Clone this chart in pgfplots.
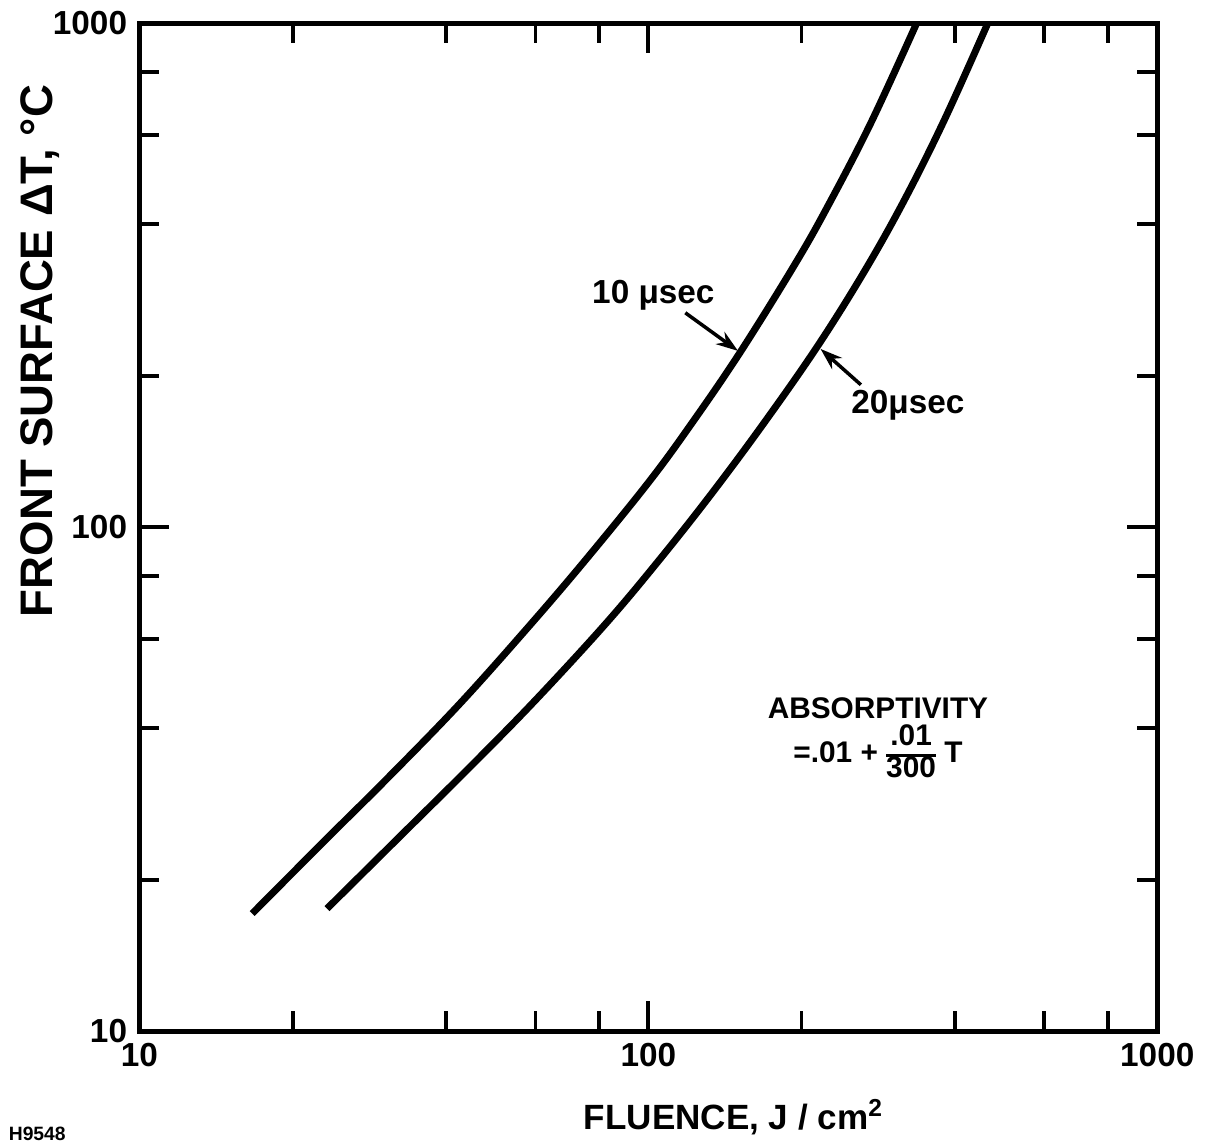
\documentclass[border=0pt]{standalone}
\usepackage{fontspec}
\setmainfont{Liberation Sans}
\usepackage{pgfplots}
\usepackage{pgfplotstable}
\pgfplotsset{compat=1.18}
\usetikzlibrary{arrows.meta}

% 10 microsecond pulse
\pgfplotstableread{
x y
16.66 17.13
23.26 24.04
30.50 31.55
42.42 44.46
58.17 63.53
75.23 86.10
100 122.7
121.4 160.3
151.4 222.3
194.1 332.7
225.4 434.5
273.5 633.9
336.5 1000
}\tenus

% 20 microsecond pulse
\pgfplotstableread{
x y
23.37 17.52
32.35 24.25
44.98 33.73
59.98 45.39
82.36 64.31
104.6 85.70
132.9 116.4
169.4 162.0
215.4 229.5
266.5 323.6
319.2 448.1
382.3 645.7
464.3 1000
}\twentyus

\begin{document}
\begin{tikzpicture}
\begin{axis}[
    scale only axis,
    width=102mm, height=101mm,
    xmode=log, ymode=log,
    xmin=10, xmax=1000, ymin=10, ymax=1000,
    xtick={10,100,1000}, ytick={10,100,1000},
    xticklabels={10,100,1000}, yticklabels={10,100,1000},
    minor xtick={20,40,60,80,200,400,600,800},
    minor ytick={20,40,60,80,200,400,600,800},
    tick align=inside,
    major tick length=3mm, minor tick length=2mm,
    every tick/.style={black, line width=1.1pt},
    axis line style={line width=1.4pt},
    tick label style={font=\fontsize{9.5}{11}\selectfont\bfseries},
    xlabel={FLUENCE, J / cm\textsuperscript{2}},
    ylabel={FRONT SURFACE ΔT, °C},
    every axis x label/.style={at={(rel axis cs:0.584,-0.097)}, anchor=base,
        font=\fontsize{10}{12}\selectfont\bfseries},
    every axis y label/.style={at={(rel axis cs:-0.098,0.675)}, anchor=center, rotate=90,
        font=\fontsize{13}{15}\selectfont\bfseries},
    clip=false,
]
\addplot[black, line width=2pt, smooth, tension=0.6] table {\tenus};
\addplot[black, line width=2pt, smooth, tension=0.6] table {\twentyus};

\node[font=\fontsize{9.5}{11}\selectfont\bfseries] at (axis cs:102.3,289) {10 μsec};
\draw[line width=1pt, -{Stealth[length=2.2mm, width=1.5mm]}] (axis cs:118.2,266.6) -- (axis cs:150,224);
\node[font=\fontsize{9.5}{11}\selectfont\bfseries] at (axis cs:323.6,174.5) {20μsec};
\draw[line width=1pt, -{Stealth[length=2.2mm, width=1.5mm]}] (axis cs:261.6,191.9) -- (axis cs:218,226);

\node[font=\fontsize{8.5}{10}\selectfont\bfseries] at (axis cs:282.6,43.8) {ABSORPTIVITY};
\node[font=\fontsize{8.5}{10}\selectfont\bfseries, inner sep=0pt] at (axis cs:282.6,35.3)
    {=.01 + {\renewcommand\arraystretch{0.75}\setlength\arrayrulewidth{0.8pt}%
     \begin{tabular}[c]{@{}c@{}}.01\\\hline 300\end{tabular}} T};

\node[anchor=south west, inner sep=0pt, font=\fontsize{5.5}{6}\selectfont\bfseries] at (rel axis cs:-0.129,-0.109) {H9548};
\path (rel axis cs:-0.137,-0.112) rectangle (rel axis cs:1.045,1.0198);
\end{axis}
\end{tikzpicture}
\end{document}
